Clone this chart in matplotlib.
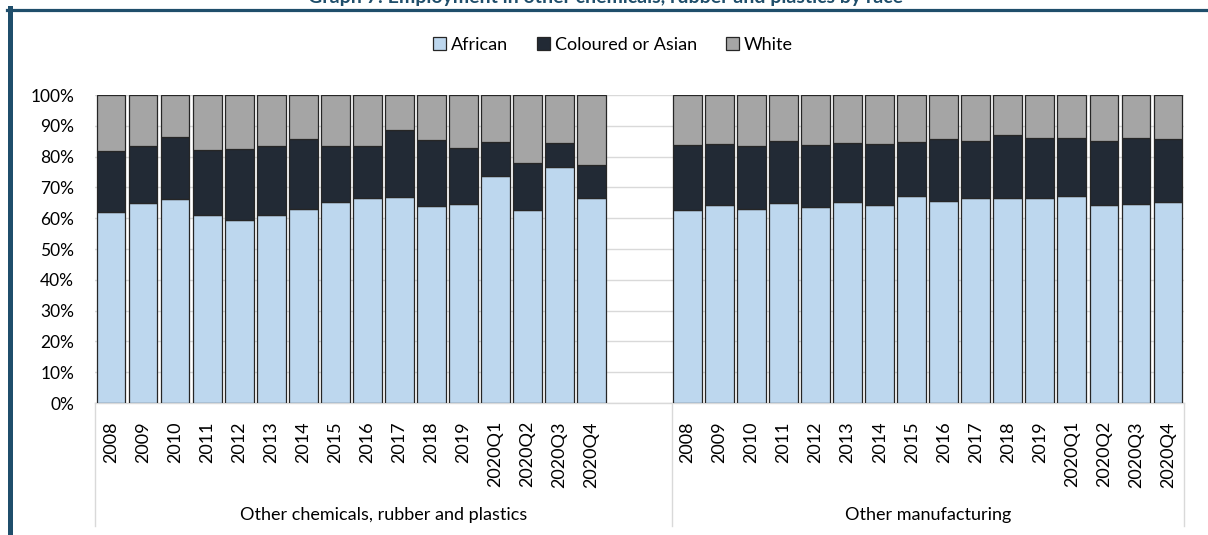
import numpy as np
import matplotlib
matplotlib.use("Agg")
import matplotlib.pyplot as plt
from matplotlib.patches import Patch
from matplotlib.lines import Line2D

plt.rcParams['font.family'] = ['Lato', 'DejaVu Sans']

periods = ['2008', '2009', '2010', '2011', '2012', '2013', '2014', '2015', '2016',
           '2017', '2018', '2019', '2020Q1', '2020Q2', '2020Q3', '2020Q4']
groups = ['Other chemicals, rubber and plastics', 'Other manufacturing']
series = ['African', 'Coloured or Asian', 'White']

# shares in %
chem_african = [62.1, 64.8, 66.1, 60.9, 59.4, 61.1, 62.9, 65.1, 66.6, 66.8, 64.1, 64.5, 73.8, 62.7, 76.5, 66.4]
chem_coloured = [19.8, 18.6, 20.4, 21.1, 23.0, 22.3, 22.9, 18.3, 16.9, 21.8, 21.2, 18.4, 10.9, 15.2, 7.8, 11.0]
chem_white = [18.1, 16.6, 13.5, 18.0, 17.6, 16.6, 14.2, 16.6, 16.5, 11.4, 14.7, 17.1, 15.3, 22.1, 15.7, 22.6]

manu_african = [62.8, 64.4, 63.1, 64.8, 63.6, 65.2, 64.4, 67.2, 65.7, 66.4, 66.4, 66.7, 67.2, 64.4, 64.7, 65.3]
manu_coloured = [20.9, 19.7, 20.4, 20.2, 20.1, 19.3, 19.8, 17.6, 20.0, 18.8, 20.5, 19.4, 18.9, 20.6, 21.3, 20.4]
manu_white = [16.3, 15.9, 16.5, 15.0, 16.3, 15.5, 15.8, 15.2, 14.3, 14.8, 13.1, 13.9, 13.9, 15.0, 14.0, 14.3]

colors = ['#BDD7EE', '#222A35', '#A5A5A5']
frame_col = '#1F4E6B'

W, H = 1208, 535
fig = plt.figure(figsize=(W / 100, H / 100), dpi=100)
ax = fig.add_axes([95 / W, 1 - 403 / H, (1184 - 95) / W, 308 / H])

n = len(periods)
gap = 2
x1 = np.arange(n)
x2 = np.arange(n) + n + gap
xpos = np.concatenate([x1, x2])

african = np.array(chem_african + manu_african)
coloured = np.array(chem_coloured + manu_coloured)
white = np.array(chem_white + manu_white)

bw = 0.9
ax.bar(xpos, african, bw, color=colors[0], edgecolor='#262626', linewidth=0.9, zorder=3)
ax.bar(xpos, coloured, bw, bottom=african, color=colors[1], edgecolor='#262626', linewidth=0.9, zorder=3)
ax.bar(xpos, white, bw, bottom=african + coloured, color=colors[2], edgecolor='#262626', linewidth=0.9, zorder=3)

ax.set_xlim(-0.5, 2 * n + gap - 0.5)
ax.set_ylim(0, 100)
ax.set_yticks(np.arange(0, 101, 10))
ax.set_yticklabels([f'{v}%' for v in range(0, 101, 10)], fontsize=12.5)
ax.grid(axis='y', color='#D9D9D9', linewidth=1, zorder=0)
ax.set_axisbelow(True)
for s in ['top', 'right', 'left']:
    ax.spines[s].set_visible(False)
ax.spines['bottom'].set_color('#D9D9D9')
ax.spines['bottom'].set_linewidth(1)

ax.set_xticks(xpos)
ax.set_xticklabels(periods * 2, rotation=90, fontsize=13, va='top')
ax.tick_params(axis='x', length=0, pad=13)
ax.tick_params(axis='y', length=0, pad=15)

# group separators and group labels under the axis
edges = [-0.5, n + gap - 0.5, 2 * n + gap - 0.5]
for xs in edges:
    ax.plot([xs, xs], [0, -0.40], transform=ax.get_xaxis_transform(), color='#D9D9D9',
            linewidth=1, clip_on=False)
for i, g in enumerate(groups):
    c = (edges[i] + edges[i + 1]) / 2
    ax.text(c, -(515 - 403) / 308, g, transform=ax.get_xaxis_transform(), ha='center',
            va='center', fontsize=13)

handles = [Patch(facecolor=colors[i], edgecolor='#262626', linewidth=0.9, label=series[i])
           for i in range(3)]
fig.legend(handles=handles, loc='center', bbox_to_anchor=(613 / W, 1 - 45 / H), ncol=3,
           frameon=False, fontsize=13, handlelength=0.7, handleheight=0.7,
           handletextpad=0.3, columnspacing=1.6)

# outer frame and title (clipped at the top edge as in the source)
fig.add_artist(Line2D([7 / W, 1], [1 - 9.5 / H, 1 - 9.5 / H], color=frame_col, linewidth=2.3))
fig.add_artist(Line2D([9.5 / W, 9.5 / W], [0, 1 - 8 / H], color=frame_col, linewidth=3.6))
fig.text(605 / W, 1 - 3 / H, 'Graph 7: Employment in other chemicals, rubber and plastics by race',
         ha='center', va='baseline', fontsize=14, fontweight='bold', color=frame_col)

fig.savefig('out.png', dpi=100)
